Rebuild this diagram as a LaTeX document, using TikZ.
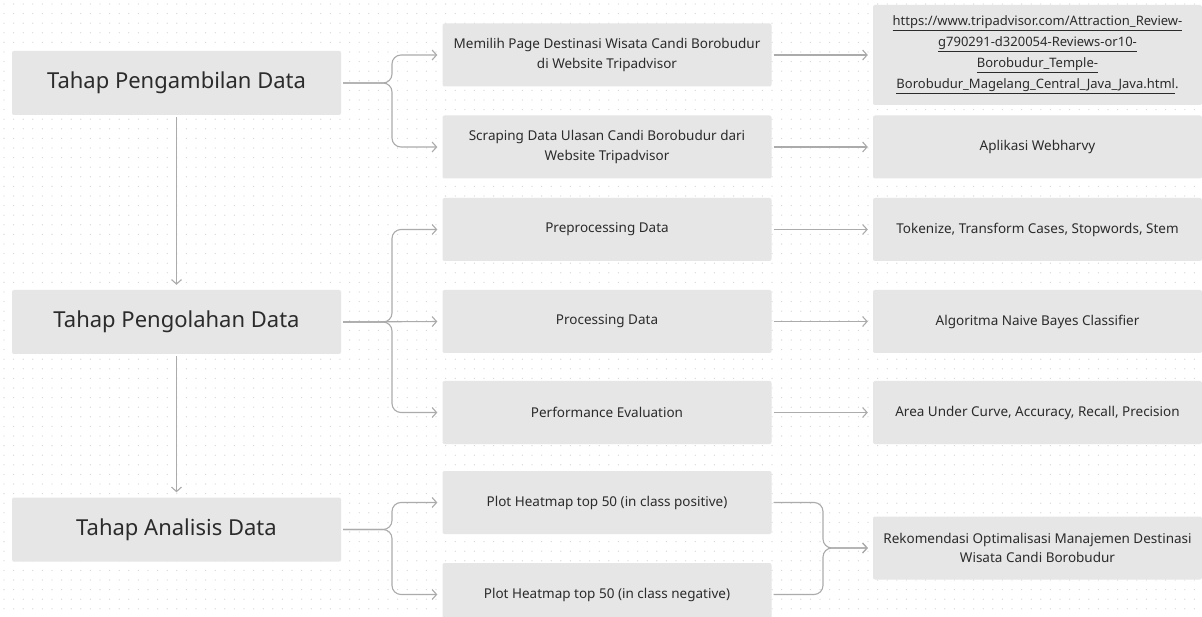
\documentclass[tikz,border=0pt]{standalone}
\usepackage{fontspec}
\setmainfont{Noto Sans}
\usetikzlibrary{arrows.meta}
\definecolor{boxfill}{HTML}{E6E6E6}
\definecolor{linec}{HTML}{ABABAB}
\definecolor{txt}{HTML}{2B2B2B}
\definecolor{dotc}{HTML}{D6D6D6}
\begin{document}
\begin{tikzpicture}[x=1pt,y=-1pt,
  box/.style={fill=boxfill, rounded corners=2pt, minimum width=329pt, minimum height=63pt, inner sep=0pt, align=center, text=txt, font=\fontsize{13.5}{19.5}\selectfont},
  bigbox/.style={box, minimum height=64pt, font=\fontsize{22}{26}\selectfont},
  urlbox/.style={box, minimum height=100pt, font=\fontsize{13}{21}\selectfont},
  conn/.style={draw=linec, line width=1.1pt, -{Straight Barb[length=4.5pt,width=10pt,line width=1.1pt]}, shorten >=5pt, shorten <=2pt},
  dots/.style={draw=dotc, line width=1.3pt, line cap=round, dash pattern=on 0pt off 9.6pt}
  ]
\useasboundingbox (0,0) rectangle (1202,617);
\fill[white] (0,0) rectangle (1202,617);
\foreach \y in {4,13.6,...,617} \draw[dots] (4,\y) -- (1202,\y);

% left column
\node[bigbox] (L1) at (176.5,83) {Tahap Pengambilan Data};
\node[bigbox] (L2) at (176.5,322) {Tahap Pengolahan Data};
\node[bigbox] (L3) at (176.5,529.5) {Tahap Analisis Data};

% middle column
\node[box] (M1) at (607,55) {Memilih Page Destinasi Wisata Candi Borobudur\\di Website Tripadvisor};
\node[box] (M2) at (607,147) {Scraping Data Ulasan Candi Borobudur dari\\Website Tripadvisor};
\node[box] (M3) at (607,229.5) {Preprocessing Data};
\node[box] (M4) at (607,321.5) {Processing Data};
\node[box] (M5) at (607,412.5) {Performance Evaluation};
\node[box] (M6) at (607,502.5) {Plot Heatmap top 50 (in class positive)};
\node[box] (M7) at (607,594.5) {Plot Heatmap top 50 (in class negative)};

% right column
\node[urlbox] (R1) at (1037.5,55) {\underline{https://www.tripadvisor.com/Attraction\_Review-}\\\underline{g790291-d320054-Reviews-or10-}\\\underline{Borobudur\_Temple-}\\\underline{Borobudur\_Magelang\_Central\_Java\_Java.html}.};
\node[box] (R2) at (1037.5,147) {Aplikasi Webharvy};
\node[box] (R3) at (1037.5,229.5) {Tokenize, Transform Cases, Stopwords, Stem};
\node[box] (R4) at (1037.5,321.5) {Algoritma Naive Bayes Classifier};
\node[box] (R5) at (1037.5,412.5) {Area Under Curve, Accuracy, Recall, Precision};
\node[box] (R6) at (1037.5,548) {Rekomendasi Optimalisasi Manajemen Destinasi\\Wisata Candi Borobudur};

% branch points
\coordinate (b1) at (392,83);
\coordinate (b2) at (392,322);
\coordinate (b3) at (392,529.5);
\coordinate (mg) at (823,548);

% vertical flow
\draw[conn] (L1.south) -- (L2.north);
\draw[conn] (L2.south) -- (L3.north);

% branches
\draw[conn, rounded corners=9pt] (L1.east) -- (b1) |- (M1.west);
\draw[conn, rounded corners=9pt] (L1.east) -- (b1) |- (M2.west);
\draw[conn, rounded corners=9pt] (L2.east) -- (b2) |- (M3.west);
\draw[conn] (L2.east) -- (M4.west);
\draw[conn, rounded corners=9pt] (L2.east) -- (b2) |- (M5.west);
\draw[conn, rounded corners=9pt] (L3.east) -- (b3) |- (M6.west);
\draw[conn, rounded corners=9pt] (L3.east) -- (b3) |- (M7.west);

% middle to right
\draw[conn] (M1.east) -- (R1.west);
\draw[conn] (M2.east) -- (R2.west);
\draw[conn] (M3.east) -- (R3.west);
\draw[conn] (M4.east) -- (R4.west);
\draw[conn] (M5.east) -- (R5.west);

% merge
\draw[conn, rounded corners=9pt] (M6.east) -| (mg) -- (R6.west);
\draw[conn, rounded corners=9pt] (M7.east) -| (mg) -- (R6.west);
\end{tikzpicture}
\end{document}
